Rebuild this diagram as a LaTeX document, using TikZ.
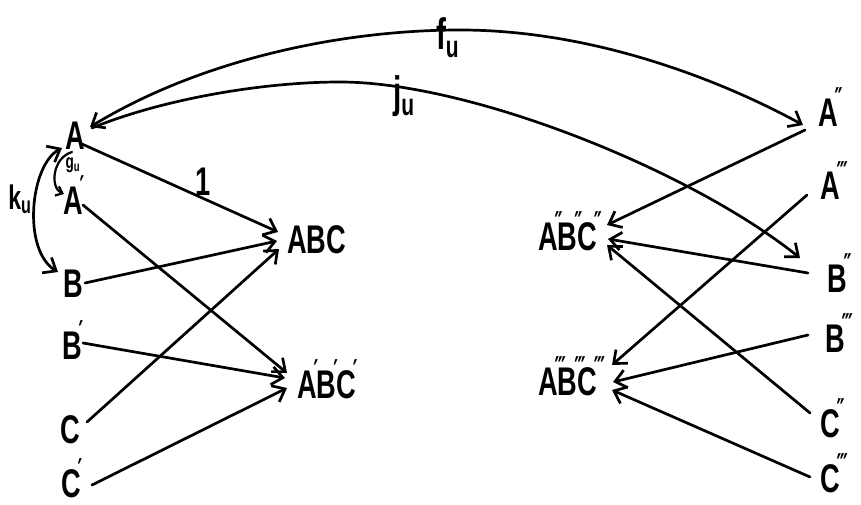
\documentclass[tikz,border=0pt]{standalone}
\usepackage{fontspec}
\setmainfont{Liberation Sans}[FakeStretch=0.68]
\newfontfamily\primefont{DejaVu Sans Bold}[FakeStretch=0.6]
\usetikzlibrary{arrows.meta}
\newcommand\pr[1]{\rlap{\kern-3pt\raisebox{17pt}{\primefont\fontsize{30}{30}\selectfont #1}}}
\newcommand\pa{\pr{′}}
\newcommand\pb{\pr{″}}
\newcommand\pc{\pr{‴}}
\begin{document}
\begin{tikzpicture}[x=1pt,y=-1pt,
  lbl/.style={inner sep=0pt, outer sep=0pt, anchor=base west, font=\fontsize{40}{44}\selectfont\bfseries},
  lab/.style={inner sep=0pt, outer sep=0pt, anchor=base west, font=\fontsize{44}{48}\selectfont\bfseries},
  ar/.style={line width=2.7pt, line cap=round, -{Straight Barb[length=11pt,width=18pt]}},
  arb/.style={line width=2.7pt, line cap=round, {Straight Barb[length=11pt,width=18pt]}-{Straight Barb[length=11pt,width=18pt]}},
  ars/.style={line width=2.2pt, line cap=round, -{Straight Barb[length=6pt,width=10pt]}}]
\useasboundingbox (0,0) rectangle (861,505);
% left column
\node[lbl] (A) at (65,150) {A};
\node[lbl] (A1) at (63,214) {A\pa};
\node[lbl] (B) at (63,297) {B};
\node[lbl] (B1) at (62,359) {B\pa};
\node[lbl] (C) at (60,443) {C};
\node[lbl] (C1) at (61,497) {C\pa};
% middle
\node[lbl] (ABC) at (287,253) {ABC};
\node[lbl] (ABC1) at (297,398) {A\pa B\pa C\pa};
\node[lbl] (ABC2) at (538,250) {A\pb B\pb C\pb};
\node[lbl] (ABC3) at (538,395) {A\pc B\pc C\pc};
% right column
\node[lbl] (A2) at (818,127) {A\pb};
\node[lbl] (A3) at (820,200) {A\pc};
\node[lbl] (B2) at (827,292) {B\pb};
\node[lbl] (B3) at (825,352) {B\pc};
\node[lbl] (C2) at (820,437) {C\pb};
\node[lbl] (C3) at (820,492) {C\pc};
% labels
\node[lab, anchor=center, font=\fontsize{40}{44}\selectfont\bfseries] (one) at (203,182) {1};
\node[lab] (fl) at (436,50) {f\textsubscript{u}};
\node[lab] (jl) at (393,108) {j\textsubscript{u}};
\node[lab, anchor=center, font=\fontsize{34}{36}\selectfont\bfseries] (kl) at (20,199) {k\textsubscript{u}};
\node[lab, anchor=center, font=\fontsize{20}{22}\selectfont\bfseries] (gl) at (73,165) {g\textsubscript{u}};
% left arrows
\draw[ar] ([shift={(17,-6)}]A.base west) -- ([shift={(-9,-21)}]ABC.base west);
\draw[ar] ([shift={(20,-9)}]A1.base west) -- ([shift={(-10,-25)}]ABC1.base west);
\draw[ar] ([shift={(22,-14)}]B.base west) -- ([shift={(-10,-12)}]ABC.base west);
\draw[ar] ([shift={(21,-16)}]B1.base west) -- ([shift={(-12,-20)}]ABC1.base west);
\draw[ar] ([shift={(27,-21)}]C.base west) -- ([shift={(-8,-4)}]ABC.base west);
\draw[ar] ([shift={(31,-12)}]C1.base west) -- ([shift={(-10,-10)}]ABC1.base west);
% right arrows
\draw[ar] ([shift={(-13,3)}]A2.base west) -- ([shift={(69,-25)}]ABC2.base west);
\draw[ar] ([shift={(-19,-19)}]B2.base west) -- ([shift={(70,-11)}]ABC2.base west);
\draw[ar] ([shift={(-10,-24)}]C2.base west) -- ([shift={(69,-5)}]ABC2.base west);
\draw[ar] ([shift={(-13,-5)}]A3.base west) -- ([shift={(74,-30)}]ABC3.base west);
\draw[ar] ([shift={(-17,-17)}]B3.base west) -- ([shift={(75,-13)}]ABC3.base west);
\draw[ar] ([shift={(-10,-15)}]C3.base west) -- ([shift={(74,-5)}]ABC3.base west);
% long curves
\draw[arb] ([shift={(25,-23)}]A.base west) .. controls (200,60) and (340,30) .. (460,30)
  .. controls (600,30) and (730,85) .. ([shift={(-15,-2)}]A2.base west);
\draw[ar] ([shift={(27,-22)}]A.base west) .. controls (160,100) and (260,82) .. (340,82)
  .. controls (470,82) and (690,170) .. ([shift={(-27,-34)}]B2.base west);
% small curves
\draw[arb] ([shift={(-3,-2)}]A.base west) .. controls (30,165) and (22,250) .. ([shift={(-5,-25)}]B.base west);
\draw[ars] ([shift={(7,2)}]A.base west) .. controls (52,158) and (50,188) .. ([shift={(1,-20)}]A1.base west);
\end{tikzpicture}
\end{document}
